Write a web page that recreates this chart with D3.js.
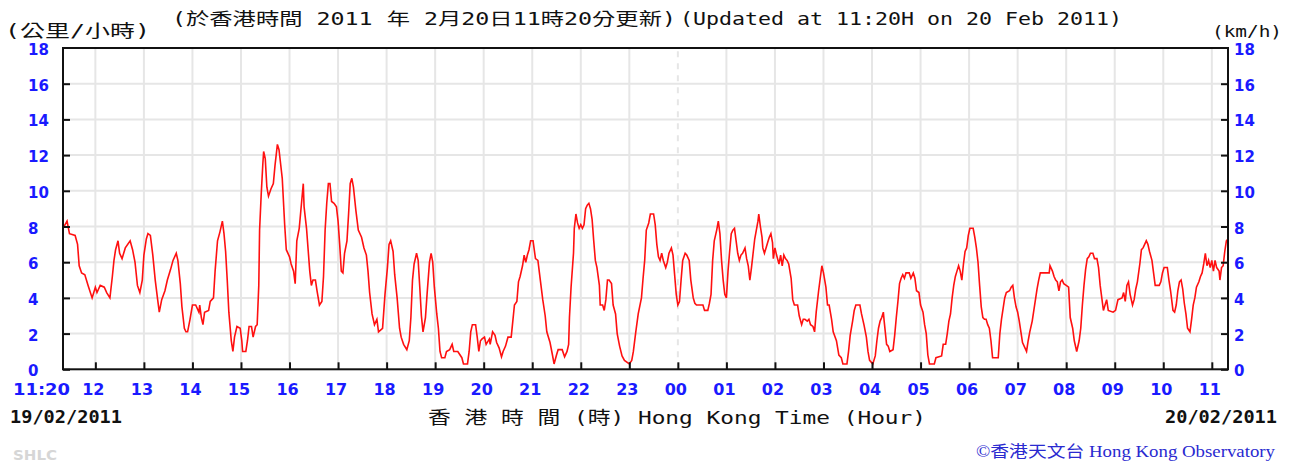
<!DOCTYPE html>
<html>
<head>
<meta charset="utf-8">
<script src="https://cdn.jsdelivr.net/npm/d3@7"></script>
<style>
  html, body { margin: 0; padding: 0; background: #fff; }
  svg { display: block; }
</style>
</head>
<body>
<svg id="chart" width="1298" height="463"></svg>
<script>
// Wind speed readings: minutes after 11:20 on 19/02/2011, speed in km/h
const readingMinutes = [
  0,5,8,15,18,20,23,27,31,36,40,42,46,51,54,58,61,63,65,68,70,73,77,83,86,89,92,95,98,100,
  103,105,108,111,114,117,119,122,126,129,133,136,140,142,145,147,150,152,154,157,160,164,168,169,171,173,175,180,182,186,
  188,191,194,197,199,201,203,205,208,210,212,215,219,221,222,226,228,230,233,235,238,240,242,243,245,247,248,250,252,254,
  257,260,262,265,267,269,271,274,276,280,282,285,287,289,292,295,297,298,301,303,305,307,309,312,314,317,320,322,324,326,
  328,330,332,335,338,340,342,344,346,348,351,353,355,357,
  359,362,365,369,372,375,377,379,382,385,388,390,395,398,401,403,405,408,410,413,416,418,421,425,428,430,432,434,437,439,
  441,443,445,448,450,453,455,457,459,462,464,466,468,472,474,478,481,483,488,493,495,500,502,504,506,510,512,514,516,518,
  521,523,527,528,531,534,536,539,542,544,547,550,554,556,558,561,563,565,568,570,572,574,576,578,581,584,587,590,593,596,
  598,602,605,607,610,612,617,620,623,625,626,628,631,632,634,636,638,640,642,644,646,648,650,652,654,656,658,660,663,664,
  667,669,671,673,675,678,680,683,685,688,691,694,700,703,705,708,711,
  715,717,719,721,724,726,730,732,734,736,738,740,742,745,747,749,752,754,756,758,760,762,764,766,769,771,774,776,779,781,
  783,791,793,797,799,801,803,805,808,810,812,814,816,818,820,822,824,826,828,830,832,834,836,838,840,843,845,847,849,851,
  853,855,857,859,860,862,864,865,867,869,871,873,875,877,878,880,882,885,887,889,891,893,895,897,900,902,904,906,908,910,
  913,915,917,920,922,924,927,929,931,934,936,938,940,943,945,947,950,952,956,959,962,964,969,971,973,976,978,980,985,987,
  990,993,995,997,1001,1004,1006,1008,1010,1012,1014,1015,1018,1020,1022,1026,1028,1030,1032,1034,1036,1038,1040,1042,1046,1048,1051,1053,1055,1058,
  1060,1063,1065,1067,1069,1071,1077,
  1079,1086,1088,1091,1093,1095,1097,1099,1101,1103,1105,1107,1109,1111,1113,1115,1117,1119,1121,1125,1127,1129,1131,1133,1135,1137,1139,1141,1143,1145,
  1147,1149,1156,1158,1160,1162,1164,1166,1170,1172,1174,1176,1178,1180,1182,1184,1186,1189,1191,1193,1195,1198,1200,1202,1204,1206,1208,1219,1220,1223,
  1225,1227,1229,1231,1233,1235,1237,1240,1243,1245,1248,1250,1253,1256,1258,1260,1262,1264,1266,1268,1270,1273,1275,1278,1280,1282,1284,1286,1288,1290,
  1292,1298,1301,1304,1309,1311,1313,1315,1317,1319,1322,1324,1326,1328,1331,1333,1335,1337,1339,1341,1343,1346,1348,1350,1355,1357,1359,1361,1365,1367,
  1369,1372,1374,1376,1378,1380,1382,1384,1386,1388,1390,1393,1395,1397,1399,1401,1404,1406,1408,1410,1412,1414,1416,1418,1420,1422,1424,1426,1429,1430,
  1432,1434,1436,1438,1440
];
const windSpeeds = [
  7.9,8.3,7.6,7.5,7.0,5.8,5.4,5.3,4.7,4.0,4.6,4.3,4.7,4.6,4.3,4.0,5.2,6.1,6.7,7.2,6.5,6.2,6.8,7.2,6.7,6.0,4.7,4.3,5.0,6.4,
  7.3,7.6,7.5,6.4,5.0,3.9,3.2,3.9,4.4,5.0,5.6,6.1,6.5,6.1,4.8,3.5,2.3,2.1,2.1,2.8,3.6,3.6,3.2,3.6,2.9,2.5,3.2,3.3,3.8,4.0,
  5.5,7.2,7.7,8.3,7.6,6.6,5.0,3.2,1.6,1.0,1.8,2.4,2.3,1.6,1.0,1.0,1.6,2.4,2.4,1.8,2.4,2.5,4.7,7.8,9.8,11.5,12.2,11.8,10.2,9.7,
  10.1,10.4,11.4,12.6,12.3,11.5,10.7,8.1,6.7,6.3,5.9,5.5,4.8,7.2,7.9,9.4,10.4,9.1,7.9,6.7,5.5,4.7,5.0,5.0,4.4,3.6,3.8,5.2,7.8,9.3,
  10.4,10.4,9.4,9.3,9.1,8.3,7.0,5.5,5.4,6.5,7.2,8.7,10.4,10.7,
  10.2,8.9,7.8,7.4,6.8,6.4,5.5,4.3,3.1,2.5,2.8,2.1,2.3,4.2,5.7,7.0,7.2,6.6,5.3,4.0,2.3,1.8,1.4,1.1,1.6,2.9,5.0,5.9,6.5,6.1,
  4.6,3.0,2.1,2.9,4.2,6.0,6.5,6.0,4.6,3.1,2.3,1.0,0.65,0.65,1.0,1.1,1.4,1.0,1.0,0.65,0.3,0.3,1.0,2.1,2.5,2.5,1.8,1.0,1.6,1.7,
  1.8,1.4,1.7,1.4,2.1,1.9,1.5,1.2,0.7,1.0,1.3,1.8,1.8,2.7,3.6,3.8,4.9,5.2,5.8,6.4,6.0,6.4,6.7,7.2,7.2,6.2,6.1,5.0,3.9,3.0,
  2.1,1.5,0.8,0.3,0.8,1.1,1.1,0.7,1.0,1.4,2.9,4.6,6.5,7.9,8.7,8.2,7.9,8.1,7.9,8.1,9.0,9.2,9.3,9.0,8.4,7.2,6.1,5.7,4.7,3.6,
  3.6,3.3,3.9,5.0,5.0,4.8,3.6,3.1,2.0,1.3,0.75,0.5,0.3,0.5,1.0,2.1,3.1,
  4.0,5.1,6.1,7.8,8.2,8.7,8.7,8.1,7.0,6.3,6.1,6.5,6.1,5.7,6.0,6.5,6.8,6.4,5.3,4.2,3.6,3.8,5.0,6.1,6.5,6.4,6.1,5.0,4.0,3.7,
  3.6,3.6,3.3,3.3,3.7,4.2,6.1,7.2,7.8,8.3,7.6,6.1,5.0,4.2,4.0,5.5,6.6,7.6,7.8,7.9,7.2,6.5,6.1,6.4,6.5,6.8,6.2,5.8,5.0,5.7,
  6.5,7.3,7.8,8.3,8.7,8.0,7.4,6.8,6.5,6.8,7.1,7.4,7.6,7.1,6.2,6.8,6.4,5.9,6.4,5.8,6.4,6.2,6.1,5.9,5.1,3.9,3.6,3.6,3.6,3.0,
  2.5,2.8,2.8,2.7,2.8,2.5,2.4,2.1,3.2,4.4,5.1,5.8,5.4,4.6,3.6,3.6,2.8,2.1,1.6,0.8,0.65,0.3,0.3,1.0,1.9,2.7,3.3,3.6,3.6,3.1,
  2.5,1.8,1.0,0.5,0.3,0.75,1.6,2.3,2.7,2.9,3.2,2.7,1.4,1.3,1.0,1.1,1.9,2.9,3.8,4.8,5.1,5.3,5.1,5.4,5.4,5.1,5.4,5.1,4.4,4.3,
  3.6,3.2,2.5,2.0,0.8,0.3,0.3,
  0.65,0.75,1.4,1.4,2.0,2.7,3.1,4.0,4.7,5.2,5.5,5.8,5.5,5.0,5.9,6.6,6.8,7.5,7.9,7.9,7.4,6.8,6.0,4.7,3.5,2.9,2.8,2.8,2.5,2.3,
  1.6,0.65,0.65,2.0,2.8,3.4,4.0,4.3,4.4,4.6,4.7,4.0,3.5,3.2,2.7,2.1,1.5,1.2,1.0,1.6,2.1,2.7,3.3,3.9,4.5,5.0,5.4,5.4,5.8,5.5,
  5.2,5.0,4.9,4.4,4.9,5.0,4.8,4.7,4.6,2.9,2.3,1.6,1.0,1.6,2.3,3.6,4.7,5.6,6.2,6.3,6.5,6.5,6.2,6.2,5.7,4.7,4.0,3.3,3.6,3.9,
  3.3,3.2,3.3,3.9,4.0,4.3,3.8,4.7,4.9,4.2,3.6,3.9,4.5,4.9,5.9,6.7,6.8,7.0,7.2,7.0,6.6,6.1,5.4,4.7,4.7,4.9,5.4,5.7,5.7,5.0,
  4.4,3.3,3.2,3.6,4.4,4.9,5.0,4.5,3.7,3.1,2.3,2.1,2.8,3.6,4.0,4.6,4.9,5.2,5.4,5.9,6.5,5.8,6.1,5.7,6.1,5.5,6.1,5.7,5.5,5.0,
  5.7,5.8,6.6,7.2,7.3
];

// Axis ticks
const speedTicks = [0, 2, 4, 6, 8, 10, 12, 14, 16, 18];
const hourTickMinutes = d3.range(40, 1440, 60);
const hourTickLabels = ["12","13","14","15","16","17","18","19","20","21","22","23",
                        "00","01","02","03","04","05","06","07","08","09","10","11"];
const startLabel = "11:20";
const midnightMinute = 760;

const svg = d3.select("#chart");
const x = d3.scaleLinear().domain([0, 1440]).range([63, 1228]);
const y = d3.scaleLinear().domain([0, 18]).range([369.3, 48]);

const blue = "#1a1aff";
const labelFont = "'DejaVu Sans', sans-serif";
const monoFont = "'DejaVu Sans Mono', 'Noto Sans CJK TC', monospace";

// grid
const grid = svg.append("g");
grid.selectAll("line.h").data(speedTicks.filter(d => d > 0 && d < 18)).join("line")
  .attr("x1", x(0)).attr("x2", x(1440))
  .attr("y1", d => y(d)).attr("y2", d => y(d))
  .attr("stroke", "#e6e6e6").attr("stroke-width", 2);
grid.selectAll("line.v").data(hourTickMinutes).join("line")
  .attr("x1", d => x(d)).attr("x2", d => x(d))
  .attr("y1", y(0)).attr("y2", y(18))
  .attr("stroke", "#e6e6e6").attr("stroke-width", 2)
  .attr("stroke-dasharray", d => d === midnightMinute ? "6,6" : null);

// wind speed trace
const line = d3.line()
  .x((d, i) => x(readingMinutes[i]))
  .y(d => y(d));
svg.append("path")
  .datum(windSpeeds)
  .attr("d", line)
  .attr("fill", "none")
  .attr("stroke", "#ff1010")
  .attr("stroke-width", 1.6)
  .attr("stroke-linejoin", "miter");

// frame
svg.append("rect")
  .attr("x", x(0)).attr("y", y(18))
  .attr("width", x(1440) - x(0)).attr("height", y(0) - y(18))
  .attr("fill", "none").attr("stroke", "#111").attr("stroke-width", 2);

// axes with inward ticks
const leftAxis = d3.axisRight(y).tickValues(speedTicks.filter(d => d < 18)).tickSize(7).tickFormat("");
const rightAxis = d3.axisLeft(y).tickValues(speedTicks.filter(d => d < 18)).tickSize(7).tickFormat("");
const bottomAxis = d3.axisTop(x).tickValues(hourTickMinutes).tickSize(7).tickFormat("");
[svg.append("g").attr("transform", `translate(${x(0)},0)`).call(leftAxis),
 svg.append("g").attr("transform", `translate(${x(1440)},0)`).call(rightAxis),
 svg.append("g").attr("transform", `translate(0,${y(0)})`).call(bottomAxis)]
  .forEach(g => {
    g.select(".domain").remove();
    g.selectAll(".tick line").attr("stroke", "#111").attr("stroke-width", 2);
  });

// speed labels, both sides
svg.selectAll("text.yl").data(speedTicks).join("text")
  .attr("x", 28).attr("y", d => y(d) + 7)
  .attr("font-family", labelFont).attr("font-weight", "bold").attr("font-size", 15)
  .attr("fill", blue).text(d => d);
svg.selectAll("text.yr").data(speedTicks).join("text")
  .attr("x", 1234).attr("y", d => y(d) + 7)
  .attr("font-family", labelFont).attr("font-weight", "bold").attr("font-size", 15)
  .attr("fill", blue).text(d => d);

// hour labels
svg.selectAll("text.xl").data(hourTickMinutes).join("text")
  .attr("x", d => x(d) - 2).attr("y", 395)
  .attr("text-anchor", "middle")
  .attr("font-family", labelFont).attr("font-weight", "bold").attr("font-size", 16)
  .attr("fill", blue).text((d, i) => hourTickLabels[i]);
svg.append("text")
  .attr("x", 13).attr("y", 395)
  .attr("textLength", 57).attr("lengthAdjust", "spacingAndGlyphs")
  .attr("font-family", labelFont).attr("font-weight", "bold").attr("font-size", 16)
  .attr("fill", blue).text(startLabel);

// dates
const dateStyle = t => t.attr("font-family", monoFont).attr("font-weight", "bold")
  .attr("font-size", 17).attr("fill", "#111").attr("lengthAdjust", "spacingAndGlyphs");
svg.append("text").attr("x", 10).attr("y", 423).attr("textLength", 112).call(dateStyle).text("19/02/2011");
svg.append("text").attr("x", 1165).attr("y", 423).attr("textLength", 112).call(dateStyle).text("20/02/2011");

// titles and units
const plain = (t, size) => t.attr("font-family", monoFont).attr("font-size", size)
  .attr("fill", "#111").attr("lengthAdjust", "spacingAndGlyphs");
svg.append("text").attr("x", 172).attr("y", 25).attr("textLength", 504).call(plain, 17)
  .text("(於香港時間 2011 年 2月20日11時20分更新)");
svg.append("text").attr("x", 680).attr("y", 25).attr("textLength", 442).call(plain, 17)
  .text("(Updated at 11:20H on 20 Feb 2011)");
svg.append("text").attr("x", 5).attr("y", 37).attr("textLength", 145).call(plain, 17)
  .text("(公里/小時)");
svg.append("text").attr("x", 1212).attr("y", 37).attr("textLength", 70).call(plain, 16)
  .text("(km/h)");
svg.append("text").attr("x", 428).attr("y", 424).attr("textLength", 498).call(plain, 18)
  .text("香 港 時 間 (時) Hong Kong Time (Hour)");

// footer
svg.append("text").attr("x", 13).attr("y", 460).attr("textLength", 44).attr("lengthAdjust", "spacingAndGlyphs")
  .attr("font-family", labelFont).attr("font-weight", "bold").attr("font-size", 14)
  .attr("fill", "#d6d6d6").text("SHLC");
svg.append("text").attr("x", 976).attr("y", 457).attr("textLength", 299).attr("lengthAdjust", "spacingAndGlyphs")
  .attr("font-family", "'Liberation Serif', 'Noto Sans CJK TC', serif").attr("font-size", 16)
  .attr("fill", "#2a2ad0").text("©香港天文台 Hong Kong Observatory");
</script>
</body>
</html>
